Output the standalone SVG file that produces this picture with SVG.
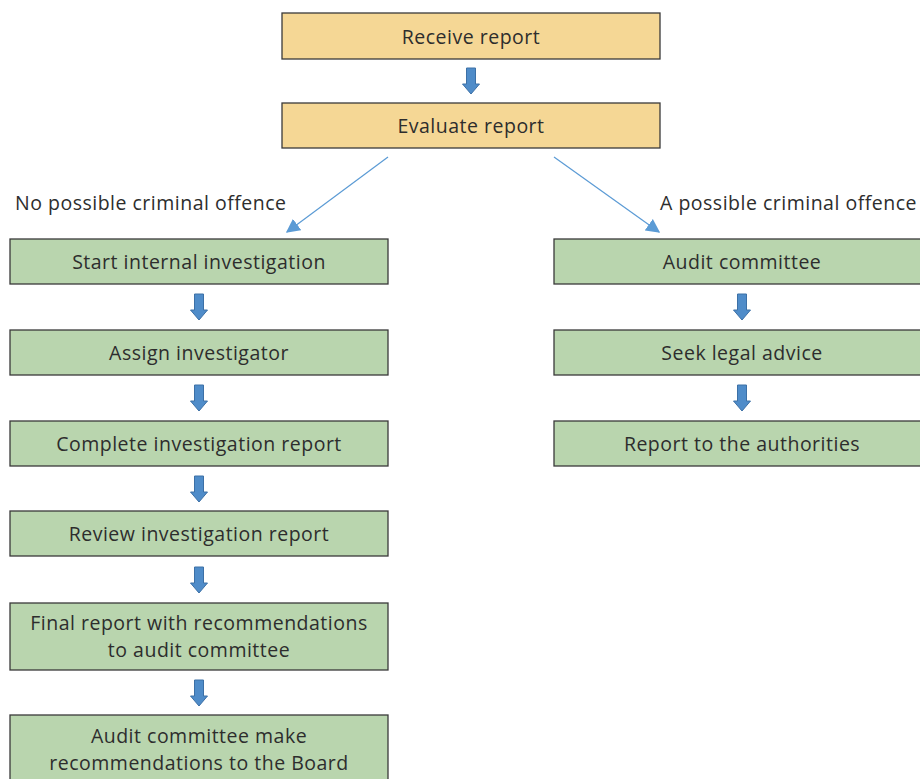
<svg xmlns="http://www.w3.org/2000/svg" width="920" height="779" viewBox="0 0 920 779">
<style>
.t{font-family:"Open Sans","Noto Sans",sans-serif;font-size:19.5px;letter-spacing:0.5px;fill:#2d2d2d;text-anchor:middle;dominant-baseline:central}
.l{font-family:"Open Sans","Noto Sans",sans-serif;font-size:19.5px;letter-spacing:0.5px;fill:#2d2d2d}
.o{fill:#F5D795;stroke:#3a3a3a;stroke-width:1.3}
.g{fill:#B9D5AE;stroke:#3a3a3a;stroke-width:1.3}
.a{fill:#4F8CC9;stroke:#3C70A6;stroke-width:1}
.c{stroke:#5B9BD5;stroke-width:1.2;fill:none}
</style>
<defs>
<path id="arr" d="M-4.5,0 H4.5 V16 H8.5 L0,26 L-8.5,16 H-4.5 Z"/>
<marker id="mh" viewBox="0 0 10 10" refX="9" refY="5" markerWidth="14" markerHeight="14" markerUnits="userSpaceOnUse" orient="auto">
<path d="M0,0 L10,5 L0,10 Z" fill="#5B9BD5"/>
</marker>
</defs>
<g id="receive"><rect class="o" x="282" y="13" width="378" height="46"/><text class="t" x="471" y="36">Receive report</text></g>
<g id="evaluate"><rect class="o" x="282" y="103" width="378" height="45"/><text class="t" x="471" y="125.5">Evaluate report</text></g>
<g id="start"><rect class="g" x="10" y="239" width="378" height="45"/><text class="t" x="199" y="261.5">Start internal investigation</text></g>
<g id="assign"><rect class="g" x="10" y="330" width="378" height="45"/><text class="t" x="199" y="352.5">Assign investigator</text></g>
<g id="complete"><rect class="g" x="10" y="421" width="378" height="45"/><text class="t" x="199" y="443.5">Complete investigation report</text></g>
<g id="review"><rect class="g" x="10" y="511" width="378" height="45"/><text class="t" x="199" y="533.5">Review investigation report</text></g>
<g id="final"><rect class="g" x="10" y="603" width="378" height="67"/><text class="t" x="199" y="622.5">Final report with recommendations</text><text class="t" x="199" y="649.5">to audit committee</text></g>
<g id="board"><rect class="g" x="10" y="715" width="378" height="70"/><text class="t" x="199" y="735">Audit committee make</text><text class="t" x="199" y="762">recommendations to the Board</text></g>
<g id="audit"><rect class="g" x="554" y="239" width="370" height="45"/><text class="t" x="742" y="261.5">Audit committee</text></g>
<g id="legal"><rect class="g" x="554" y="330" width="370" height="45"/><text class="t" x="742" y="352.5">Seek legal advice</text></g>
<g id="authorities"><rect class="g" x="554" y="421" width="370" height="45"/><text class="t" x="742" y="443.5">Report to the authorities</text></g>
<g id="labels">
<text class="l" x="15" y="210">No possible criminal offence</text>
<text class="l" x="660" y="210">A possible criminal offence</text>
</g>
<g id="connectors">
<line class="c" x1="388" y1="157" x2="287" y2="232" marker-end="url(#mh)"/>
<line class="c" x1="554" y1="157" x2="659" y2="232" marker-end="url(#mh)"/>
<use href="#arr" class="a" x="471" y="68"/>
<use href="#arr" class="a" x="199" y="294"/>
<use href="#arr" class="a" x="199" y="385"/>
<use href="#arr" class="a" x="199" y="476"/>
<use href="#arr" class="a" x="199" y="567"/>
<use href="#arr" class="a" x="199" y="680"/>
<use href="#arr" class="a" x="742" y="294"/>
<use href="#arr" class="a" x="742" y="385"/>
</g>
</svg>
